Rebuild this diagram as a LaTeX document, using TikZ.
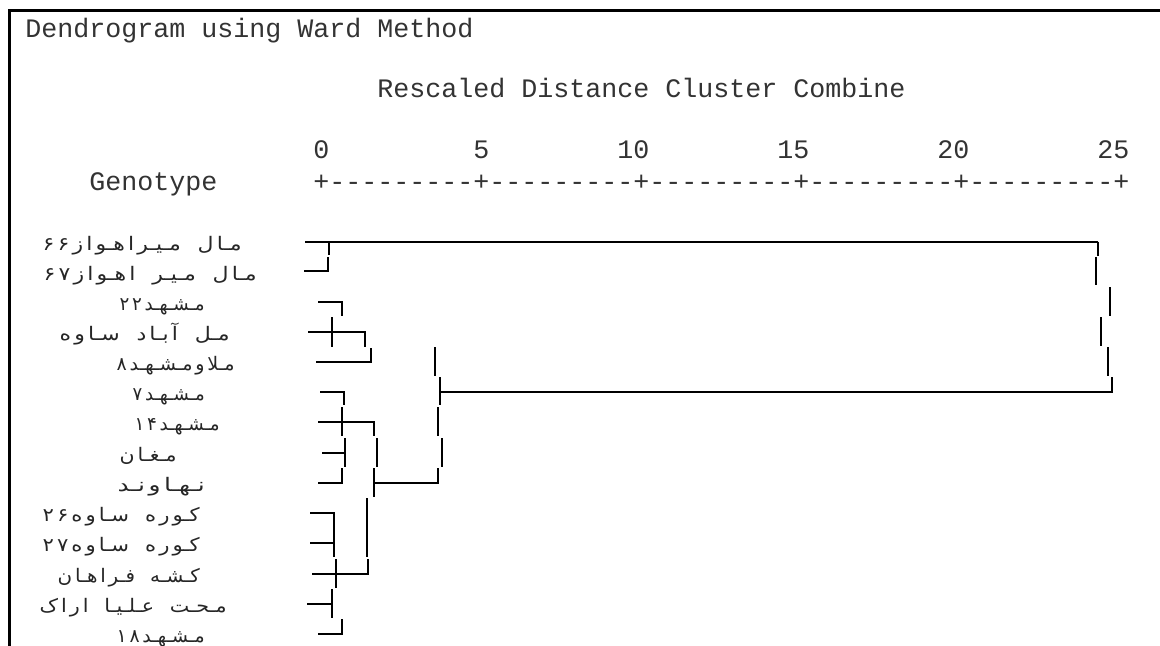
\documentclass[tikz,border=0pt]{standalone}
\usepackage{fontspec}
\setmonofont{Liberation Mono}
\newfontfamily\fa[Script=Arabic,WordSpace=2.4]{DejaVu Sans}
\TeXXeTstate=1
\newcommand\gp{\kern2pt}
\newcommand\lbl[2]{\resizebox{#1pt}{\height}{#2}}
\begin{document}
\begin{tikzpicture}[x=0.75pt,y=-0.75pt,
  mono/.style={font=\ttfamily\fontsize{20}{24}\selectfont, anchor=base west, inner sep=0pt, text=black!80},
  lab/.style={font=\fa\fontsize{14}{16}\selectfont, anchor=base east, inner sep=0pt, text=black!85},
  den/.style={line width=1.5pt, line cap=butt}]
\useasboundingbox (0,0) rectangle (1160,646);
\fill[white] (0,0) rectangle (1160,646);
\draw[line width=1.9pt] (9.5,660) -- (9.5,10.7) -- (1170,10.7);

% header texts
\node[mono] (title) at (25,37) {Dendrogram using Ward Method};
\node[mono] (sub) at (377,97) {Rescaled Distance Cluster Combine};
\node[mono] (n0) at (313,158) {0};
\node[mono] (n5) at (473,158) {5};
\node[mono] (n10) at (617,158) {10};
\node[mono] (n15) at (777,158) {15};
\node[mono] (n20) at (937,158) {20};
\node[mono] (n25) at (1097,158) {25};
\node[mono] (geno) at (89,190) {Genotype};
\node[mono] (axis) at (313,190) {+---------+---------+---------+---------+---------+};

% labels
\node[lab] (l0) at (242,250) {\lbl{149.25}{\beginR مـا\gp ل مـیـر\gp ا\gp هـو\gp ا\gp ز\gp\beginL ۶\gp ۶\endL\endR}};
\node[lab] (l1) at (257,280) {\lbl{159.75}{\beginR مـا\gp ل مـیـر ا\gp هـو\gp ا\gp ز\gp\beginL ۶\gp ۷\endL\endR}};
\node[lab] (l2) at (205,310) {\lbl{63.75}{\beginR مـشـهـد\gp\beginL ۲\gp ۲\endL\endR}};
\node[lab] (l3) at (230,340) {\lbl{127.5}{\beginR مـل آ\gp بـا\gp د سـا\gp و\gp ه\endR}};
\node[lab] (l4) at (235,370) {\lbl{88.5}{\beginR مـلا\gp و\gp مـشـهـد\gp\beginL ۸\endL\endR}};
\node[lab] (l5) at (205,400) {\lbl{54}{\beginR مـشـهـد\gp\beginL ۷\endL\endR}};
\node[lab] (l6) at (220,430) {\lbl{63.75}{\beginR مـشـهـد\gp\beginL ۱\gp ۴\endL\endR}};
\node[lab] (l7) at (177,461) {\lbl{42.75}{\beginR مـغـا\gp ن\endR}};
\node[lab] (l8) at (205,491) {\lbl{65.25}{\beginR نـهـا\gp و\gp نـد\endR}};
\node[lab] (l9) at (200,521) {\lbl{117.75}{\beginR کـو\gp ر\gp ه سـا\gp و\gp ه\gp\beginL ۲\gp ۶\endL\endR}};
\node[lab] (l10) at (200,551) {\lbl{117.75}{\beginR کـو\gp ر\gp ه سـا\gp و\gp ه\gp\beginL ۲\gp ۷\endL\endR}};
\node[lab] (l11) at (200,582) {\lbl{106.5}{\beginR کـشـه فـر\gp ا\gp هـا\gp ن\endR}};
\node[lab] (l12) at (227,612) {\lbl{140.25}{\beginR مـحـت عـلـیـا ا\gp ر\gp ا\gp ک\endR}};
\node[lab] (l13) at (205,642) {\lbl{66}{\beginR مـشـهـد\gp\beginL ۱\gp ۸\endL\endR}};

% cluster {0,1}
\draw[den] (305,241.5) -- (1098,241.5);
\draw[den] (329,241.5) -- (329,255);
\draw[den] (304,271) -- (327.7,271) -- (327.7,257);
% top join
\draw[den] (1098,241.5) -- (1098,256);
\draw[den] (1096,257) -- (1096,285);
\draw[den] (1110,287) -- (1110,316);
\draw[den] (1101,317) -- (1101,346);
\draw[den] (1108,347) -- (1108,376);
\draw[den] (1112,377) -- (1112,392) -- (440,392);

% cluster {2,3,4}
\draw[den] (318,302) -- (342,302) -- (342,316);
\draw[den] (332,317) -- (332,347);
\draw[den] (308,332) -- (364.5,332) -- (364.5,347);
\draw[den] (316,362) -- (371,362) -- (371,348);

% middle join
\draw[den] (435,347) -- (435,376);
\draw[den] (440,377) -- (440,405);
\draw[den] (438,407) -- (438,436);
\draw[den] (442,438) -- (442,467);
\draw[den] (374,483) -- (438,483) -- (438,468);

% cluster {5..8}
\draw[den] (320,392) -- (344,392) -- (344,405);
\draw[den] (341.7,407) -- (341.7,436);
\draw[den] (318,422) -- (374,422) -- (374,436);
\draw[den] (345,438) -- (345,467);
\draw[den] (322,453) -- (345,453);
\draw[den] (318,483) -- (342,483) -- (342,468);
\draw[den] (377,438) -- (377,467);
\draw[den] (374,468) -- (374,497);

% cluster {9..13}
\draw[den] (366.7,498) -- (366.7,557);
\draw[den] (312,574) -- (368,574) -- (368,559);
\draw[den] (310,513) -- (334,513) -- (334,557);
\draw[den] (310,543) -- (334,543);
\draw[den] (335.7,559) -- (335.7,588);
\draw[den] (307,604) -- (331.7,604);
\draw[den] (331.7,589) -- (331.7,618);
\draw[den] (318,634) -- (342,634) -- (342,619);
\end{tikzpicture}
\end{document}
